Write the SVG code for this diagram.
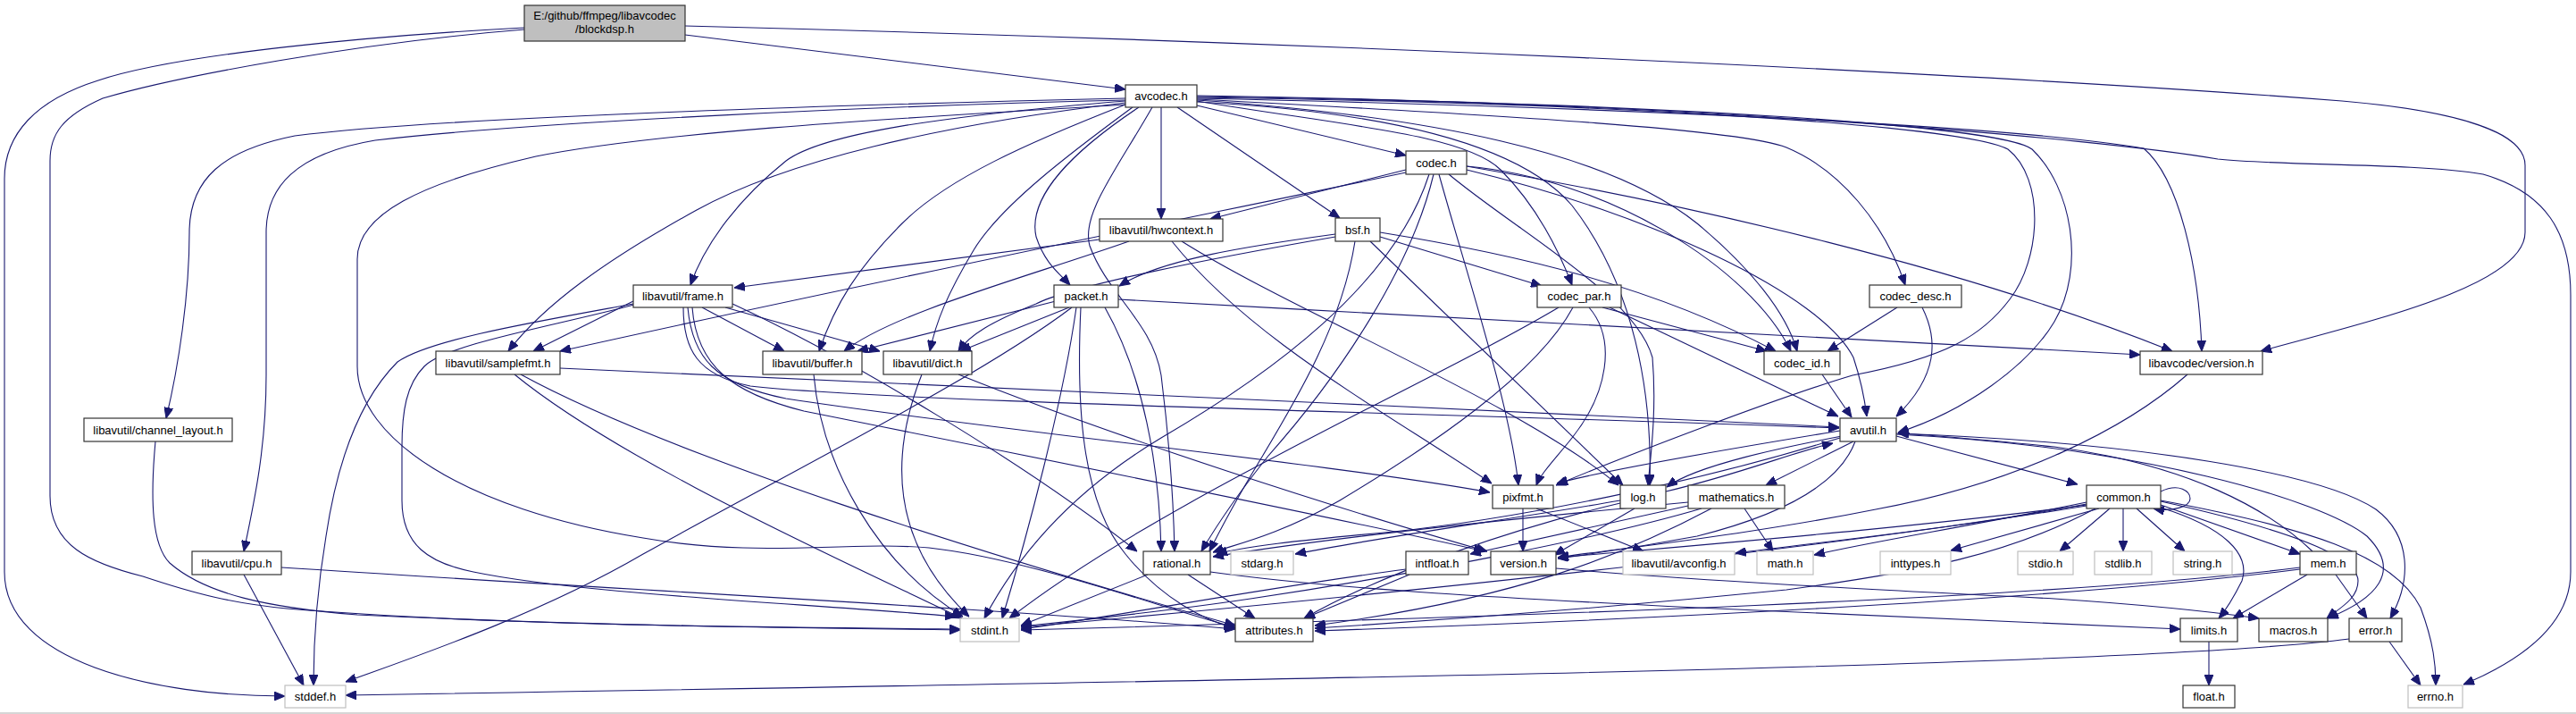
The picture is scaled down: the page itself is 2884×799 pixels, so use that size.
<svg xmlns="http://www.w3.org/2000/svg" width="2884" height="799" viewBox="0 0 2884 799">
<style>
.n rect{fill:#fff;stroke:#333;stroke-width:1.2}
.s rect{fill:#fff;stroke:#bfbfbf;stroke-width:1.2}
.r rect{fill:#bfbfbf;stroke:#333;stroke-width:1.2}
text{font-family:"Liberation Sans",Arial,sans-serif;font-size:13px;fill:#000;text-anchor:middle}
#edges path{fill:none;stroke:#191970;stroke-width:1.1;marker-end:url(#ah)}
</style>
<defs>
<marker id="ah" markerUnits="userSpaceOnUse" markerWidth="12" markerHeight="10" viewBox="0 0 12 10" refX="12" refY="5" orient="auto">
<path d="M0,0 L12,5 L0,10 z" fill="#191970" stroke="#191970"/>
</marker>
</defs>
<rect width="2884" height="799" fill="#fff"/>
<line x1="0" y1="798" x2="2884" y2="798" stroke="#c8c8c8" stroke-width="1.5"/>
<g id="edges">
<!-- blockdsp -->
<path d="M587,31 C420,40 200,60 110,90 C40,112 5,150 5,200 L5,640 C5,740 170,779 319,779"/>
<path d="M587,33 C400,48 200,85 115,110 C70,130 56,150 56,180 L56,555 C56,610 100,630 160,645 C220,665 260,675 321,681 C550,700 850,702 1075,704"/>
<path d="M767,39 L1260,100"/>
<path d="M767,29 C1400,45 2200,80 2622,113 C2760,125 2827,150 2827,185 L2827,260 C2827,320 2650,360 2531,393"/>
<!-- avcodec -->
<path d="M1260,110 C1000,116 500,130 330,152 C250,168 212,200 212,260 C212,330 200,410 186,468"/>
<path d="M1260,112 C1000,118 600,136 420,157 C330,172 298,210 298,260 L298,420 C298,500 285,560 273,617"/>
<path d="M1260,117 C1050,130 750,145 600,175 C470,205 400,240 400,290 L400,410 C400,490 520,570 720,602 C850,625 950,605 1040,613 C1150,625 1300,680 1383,702"/>
<path d="M1260,113 C1050,130 920,150 880,180 C830,220 790,270 773,319"/>
<path d="M1260,115 C1050,140 880,180 780,235 C680,290 610,340 569,393"/>
<path d="M1260,117 C1150,160 1060,200 1010,250 C960,300 935,340 917,393"/>
<path d="M1268,120 C1200,170 1120,230 1090,280 C1060,330 1048,360 1041,393"/>
<path d="M1275,120 C1200,170 1150,220 1160,265 C1170,295 1185,305 1198,319"/>
<path d="M1300,120 L1300,245"/>
<path d="M1290,120 C1250,190 1210,240 1220,275 C1240,330 1290,360 1300,420 C1310,500 1314,570 1315,617"/>
<path d="M1318,120 L1500,244"/>
<path d="M1340,118 L1574,174"/>
<path d="M1340,113 C1500,140 1640,150 1680,190 C1720,230 1745,280 1760,319"/>
<path d="M1340,112 C1600,130 1800,170 1900,250 C1960,300 2000,350 2012,393"/>
<path d="M1340,111 C1700,130 1950,145 2000,165 C2060,190 2110,250 2133,319"/>
<path d="M1340,110 C1800,120 2250,140 2400,166 C2440,200 2462,300 2465,393"/>
<path d="M1340,108 C1850,115 2240,140 2275,167 C2320,210 2335,300 2300,360 C2270,410 2200,460 2125,484"/>
<path d="M1340,109 C1800,115 2200,140 2248,167 C2290,200 2285,290 2250,335 C2220,375 2180,400 2074,420 C1990,445 1820,510 1742,543"/>
<path d="M1340,107 C1900,115 2350,155 2483,178 C2560,186 2700,182 2780,195 C2850,215 2878,260 2878,330 L2878,640 C2878,700 2820,740 2758,766"/>
<path d="M1340,114 C1550,125 1700,160 1760,230 C1830,320 1850,440 1847,543"/>
<!-- codec -->
<path d="M1574,190 L1355,245"/>
<path d="M1574,193 C1400,230 1000,310 627,393"/>
<path d="M1600,195 C1560,320 1420,420 1300,490 C1200,550 1140,620 1102,692"/>
<path d="M1605,195 C1580,300 1500,420 1420,510 C1380,560 1355,600 1345,617"/>
<path d="M1611,195 C1640,300 1690,450 1700,543"/>
<path d="M1622,195 C1700,260 1830,330 1850,400 C1855,460 1848,510 1845,543"/>
<path d="M1642,186 C1800,200 1960,300 2005,393"/>
<path d="M1642,186 C1900,230 2200,300 2432,393"/>
<path d="M1642,190 C1850,240 2040,330 2075,400 C2085,430 2088,450 2090,466"/>
<!-- hwcontext -->
<path d="M1231,268 L822,322"/>
<path d="M1264,270 C1150,310 1000,350 945,393"/>
<path d="M1323,270 C1450,350 1700,450 1812,543"/>
<path d="M1312,270 C1400,380 1550,460 1670,541"/>
<!-- bsf -->
<path d="M1495,262 C1400,275 1300,290 1253,320"/>
<path d="M1495,265 C1350,290 1200,320 1160,340 C1110,360 1085,375 1073,393"/>
<path d="M1545,265 L1726,320"/>
<path d="M1545,260 C1700,285 1850,320 1988,393"/>
<path d="M1534,270 L1817,543"/>
<path d="M1517,270 C1500,380 1430,480 1390,550 C1370,585 1360,605 1354,617"/>
<!-- packet -->
<path d="M1182,337 L960,393"/>
<path d="M1197,344 L1075,393"/>
<path d="M1200,344 C1100,420 900,520 720,620 C600,690 450,740 387,763"/>
<path d="M1210,344 C1205,450 1210,560 1260,620 C1300,670 1350,695 1383,703"/>
<path d="M1205,344 C1190,450 1150,600 1122,692"/>
<path d="M1237,344 C1280,420 1298,520 1300,617"/>
<path d="M1252,335 C1700,360 2200,385 2396,397"/>
<!-- codec_par -->
<path d="M1745,344 C1600,430 1300,560 1130,692"/>
<path d="M1761,344 C1720,420 1600,500 1500,560 C1430,600 1380,610 1358,618"/>
<path d="M1779,344 C1810,380 1800,440 1760,490 C1740,515 1725,530 1720,543"/>
<path d="M1794,344 L1978,393"/>
<path d="M1802,344 L2058,466"/>
<!-- codec_desc -->
<path d="M2124,344 L2046,393"/>
<path d="M2152,344 C2170,380 2170,420 2123,466"/>
<!-- codec_id -->
<path d="M2040,419 L2073,467"/>
<!-- frame -->
<path d="M709,337 L597,393"/>
<path d="M709,340 C600,360 480,380 445,405 C410,440 380,500 365,600 C355,660 351,720 351,767"/>
<path d="M710,341 C620,365 500,385 475,410 C455,430 450,460 450,500 L450,560 C450,610 480,630 530,640 C650,665 900,675 1070,690"/>
<path d="M786,344 L878,393"/>
<path d="M812,344 L985,393"/>
<path d="M765,344 C765,390 780,420 840,432 C1000,450 1600,462 2059,479"/>
<path d="M770,344 C775,400 800,430 880,446 C1100,480 1500,520 1668,551"/>
<path d="M820,340 C950,400 1150,520 1273,617"/>
<path d="M775,344 C780,410 820,440 900,460 C1100,500 1500,580 1662,617"/>
<!-- samplefmt -->
<path d="M627,412 C1000,430 1600,455 2059,478"/>
<path d="M576,419 C700,520 950,630 1077,692"/>
<path d="M583,419 C750,510 1100,620 1383,700"/>
<!-- buffer, dict -->
<path d="M911,419 C920,520 980,630 1078,690"/>
<path d="M1032,419 C1000,500 990,600 1085,690"/>
<path d="M1073,419 C1250,490 1500,570 1665,617"/>
<!-- channel_layout, cpu -->
<path d="M174,494 C168,560 170,610 190,630 C230,665 300,680 400,688 C650,700 900,703 1075,705"/>
<path d="M273,643 L340,767"/>
<path d="M315,635 C700,660 1100,680 1383,704"/>
<!-- lavc version -->
<path d="M2449,419 C2380,480 2260,540 2100,570 C1950,600 1800,615 1744,624"/>
<!-- avutil -->
<path d="M2123,488 L2326,542"/>
<path d="M2123,485 C2400,495 2600,530 2660,570 C2700,600 2700,650 2676,692"/>
<path d="M2123,486 C2400,500 2600,560 2650,600 C2690,640 2660,670 2606,692"/>
<path d="M2075,494 L1977,543"/>
<path d="M2062,488 C2000,500 1900,520 1866,545"/>
<path d="M2060,482 C1950,500 1800,525 1743,541"/>
<path d="M2060,490 C1900,540 1700,580 1560,595 C1450,605 1390,612 1362,620"/>
<path d="M2077,494 C2060,540 2000,575 1900,600 C1820,615 1780,620 1744,625"/>
<!-- log -->
<path d="M1865,550 C1950,530 2010,505 2052,496"/>
<path d="M1830,569 L1740,621"/>
<path d="M1814,563 C1700,590 1550,640 1460,692"/>
<path d="M1814,560 C1700,580 1550,600 1450,620"/>
<!-- mathematics -->
<path d="M1953,569 L1985,617"/>
<path d="M1890,566 L1646,620"/>
<path d="M1890,562 C1700,580 1500,600 1358,623"/>
<path d="M1905,569 C1800,600 1600,640 1400,670 C1300,685 1200,695 1143,701"/>
<path d="M1916,569 C1820,620 1700,670 1472,700"/>
<!-- pixfmt -->
<path d="M1705,569 L1705,617"/>
<path d="M1720,569 L1840,617"/>
<!-- intfloat -->
<path d="M1574,637 C1400,660 1250,690 1143,704"/>
<path d="M1578,643 L1460,692"/>
<!-- version -->
<path d="M1742,636 C1900,650 2100,660 2300,670 C2420,678 2480,685 2529,692"/>
<!-- rational -->
<path d="M1285,643 L1143,700"/>
<path d="M1330,643 L1405,692"/>
<path d="M1355,640 C1500,660 1700,670 1900,680 C2150,692 2350,700 2441,704"/>
<!-- common -->
<path d="M2419,550 C2440,540 2452,550 2452,558 C2452,567 2432,573 2411,569"/>
<path d="M2350,569 L2184,616"/>
<path d="M2362,569 L2306,617"/>
<path d="M2377,569 L2377,617"/>
<path d="M2392,569 L2446,617"/>
<path d="M2419,565 L2575,620"/>
<path d="M2419,568 C2490,590 2520,620 2510,650 C2500,670 2490,685 2484,692"/>
<path d="M2419,561 C2550,590 2640,620 2640,650 C2640,670 2620,680 2605,692"/>
<path d="M2419,560 C2580,590 2680,620 2710,680 C2725,720 2727,745 2727,767"/>
<path d="M2336,562 C2200,590 2100,605 2031,621"/>
<path d="M2336,564 C2200,590 2050,605 1943,619"/>
<path d="M2336,565 C2150,590 1900,610 1744,624"/>
<path d="M2336,566 C2000,620 1500,670 1143,702"/>
<path d="M2346,569 C2250,620 2150,640 2000,660 C1800,680 1600,695 1472,703"/>
<!-- mem -->
<path d="M2589,617 C2540,570 2450,520 2300,500 C2200,490 2150,486 2125,485"/>
<path d="M2583,643 L2500,692"/>
<path d="M2615,643 L2650,692"/>
<path d="M2575,635 C2300,670 1700,690 1143,705"/>
<path d="M2575,637 C2300,672 1800,695 1472,706"/>
<!-- error, limits -->
<path d="M2675,718 L2710,767"/>
<path d="M2630,715 C2400,745 1500,760 387,778"/>
<path d="M2473,718 L2473,767"/>
</g>
<g id="n_blockdsp" class="r"><rect x="587" y="6" width="180" height="40"/><text x="677" y="21.5">E:/github/ffmpeg/libavcodec</text><text x="677" y="36.5">/blockdsp.h</text></g>
<g id="n_avcodec" class="n"><rect x="1260" y="95" width="80" height="25"/><text x="1300" y="112">avcodec.h</text></g>
<g id="n_codec" class="n"><rect x="1574" y="169" width="68" height="26"/><text x="1608" y="186.5">codec.h</text></g>
<g id="n_hwcontext" class="n"><rect x="1231" y="245" width="138" height="25"/><text x="1300" y="262">libavutil/hwcontext.h</text></g>
<g id="n_bsf" class="n"><rect x="1495" y="244" width="50" height="26"/><text x="1520" y="261.5">bsf.h</text></g>
<g id="n_frame" class="n"><rect x="709" y="319" width="111" height="25"/><text x="764.5" y="336">libavutil/frame.h</text></g>
<g id="n_packet" class="n"><rect x="1180" y="319" width="72" height="25"/><text x="1216" y="336">packet.h</text></g>
<g id="n_codec_par" class="n"><rect x="1721" y="319" width="94" height="25"/><text x="1768" y="336">codec_par.h</text></g>
<g id="n_codec_desc" class="n"><rect x="2093" y="319" width="103" height="25"/><text x="2144.5" y="336">codec_desc.h</text></g>
<g id="n_samplefmt" class="n"><rect x="488" y="393" width="139" height="26"/><text x="557.5" y="410.5">libavutil/samplefmt.h</text></g>
<g id="n_buffer" class="n"><rect x="854" y="393" width="111" height="26"/><text x="909.5" y="410.5">libavutil/buffer.h</text></g>
<g id="n_dict" class="n"><rect x="989" y="393" width="99" height="26"/><text x="1038.5" y="410.5">libavutil/dict.h</text></g>
<g id="n_codec_id" class="n"><rect x="1975" y="393" width="85" height="26"/><text x="2017.5" y="410.5">codec_id.h</text></g>
<g id="n_lavc_version" class="n"><rect x="2396" y="393" width="137" height="26"/><text x="2464.5" y="410.5">libavcodec/version.h</text></g>
<g id="n_channel_layout" class="n"><rect x="94" y="468" width="166" height="26"/><text x="177" y="485.5">libavutil/channel_layout.h</text></g>
<g id="n_avutil" class="n"><rect x="2060" y="468" width="63" height="26"/><text x="2091.5" y="485.5">avutil.h</text></g>
<g id="n_pixfmt" class="n"><rect x="1671" y="543" width="68" height="26"/><text x="1705" y="560.5">pixfmt.h</text></g>
<g id="n_log" class="n"><rect x="1814" y="543" width="51" height="26"/><text x="1839.5" y="560.5">log.h</text></g>
<g id="n_mathematics" class="n"><rect x="1890" y="543" width="108" height="26"/><text x="1944" y="560.5">mathematics.h</text></g>
<g id="n_common" class="n"><rect x="2336" y="543" width="83" height="26"/><text x="2377.5" y="560.5">common.h</text></g>
<g id="n_cpu" class="n"><rect x="215" y="617" width="100" height="26"/><text x="265" y="634.5">libavutil/cpu.h</text></g>
<g id="n_rational" class="n"><rect x="1280" y="617" width="75" height="26"/><text x="1317.5" y="634.5">rational.h</text></g>
<g id="n_stdarg" class="s"><rect x="1378" y="617" width="70" height="26"/><text x="1413" y="634.5">stdarg.h</text></g>
<g id="n_intfloat" class="n"><rect x="1574" y="617" width="70" height="26"/><text x="1609" y="634.5">intfloat.h</text></g>
<g id="n_version" class="n"><rect x="1669" y="617" width="73" height="26"/><text x="1705.5" y="634.5">version.h</text></g>
<g id="n_avconfig" class="s"><rect x="1817" y="617" width="125" height="26"/><text x="1879.5" y="634.5">libavutil/avconfig.h</text></g>
<g id="n_math" class="s"><rect x="1967" y="617" width="63" height="26"/><text x="1998.5" y="634.5">math.h</text></g>
<g id="n_inttypes" class="s"><rect x="2105" y="617" width="79" height="26"/><text x="2144.5" y="634.5">inttypes.h</text></g>
<g id="n_stdio" class="s"><rect x="2259" y="617" width="62" height="26"/><text x="2290" y="634.5">stdio.h</text></g>
<g id="n_stdlib" class="s"><rect x="2345" y="617" width="64" height="26"/><text x="2377" y="634.5">stdlib.h</text></g>
<g id="n_string" class="s"><rect x="2433" y="617" width="66" height="26"/><text x="2466" y="634.5">string.h</text></g>
<g id="n_mem" class="n"><rect x="2575" y="617" width="63" height="26"/><text x="2606.5" y="634.5">mem.h</text></g>
<g id="n_stdint" class="s"><rect x="1075" y="692" width="66" height="26"/><text x="1108" y="709.5">stdint.h</text></g>
<g id="n_attributes" class="n"><rect x="1383" y="692" width="87" height="26"/><text x="1426.5" y="709.5">attributes.h</text></g>
<g id="n_limits" class="n"><rect x="2441" y="692" width="64" height="26"/><text x="2473" y="709.5">limits.h</text></g>
<g id="n_macros" class="n"><rect x="2529" y="692" width="77" height="26"/><text x="2567.5" y="709.5">macros.h</text></g>
<g id="n_error" class="n"><rect x="2630" y="692" width="59" height="26"/><text x="2659.5" y="709.5">error.h</text></g>
<g id="n_stddef" class="s"><rect x="319" y="767" width="68" height="25"/><text x="353" y="784">stddef.h</text></g>
<g id="n_float" class="n"><rect x="2444" y="767" width="58" height="25"/><text x="2473" y="784">float.h</text></g>
<g id="n_errno" class="s"><rect x="2696" y="767" width="61" height="25"/><text x="2726.5" y="784">errno.h</text></g>
</svg>
